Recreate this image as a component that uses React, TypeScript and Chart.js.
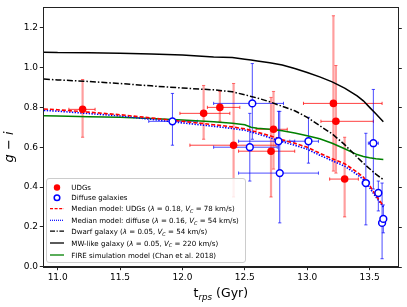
import React, { useEffect, useRef } from 'react';
import { Chart, registerables } from 'chart.js';
Chart.register(...registerables);

const FONT = '"DejaVu Sans", sans-serif';

// ---------- data ----------
const xTicks = [11.0, 11.5, 12.0, 12.5, 13.0, 13.5];
const yTicks = [0.0, 0.2, 0.4, 0.6, 0.8, 1.0, 1.2];

const curveX = [10.89, 11.0, 11.25, 11.5, 11.75, 12.0, 12.25, 12.4, 12.5, 12.55, 12.6, 12.7, 12.8, 12.9, 13.0, 13.1, 13.2, 13.3, 13.4, 13.45, 13.5, 13.55, 13.61];
const mwY = [1.077, 1.075, 1.074, 1.072, 1.068, 1.063, 1.053, 1.05, 1.042, 1.038, 1.033, 1.024, 1.013, 0.995, 0.975, 0.953, 0.928, 0.897, 0.858, 0.833, 0.8, 0.768, 0.728];
const dwarfY = [0.942, 0.938, 0.93, 0.92, 0.908, 0.897, 0.888, 0.878, 0.863, 0.855, 0.847, 0.828, 0.805, 0.783, 0.75, 0.708, 0.667, 0.613, 0.55, 0.52, 0.492, 0.465, 0.437];
const medUdgY = [0.792, 0.788, 0.776, 0.763, 0.747, 0.73, 0.713, 0.702, 0.692, 0.684, 0.675, 0.658, 0.637, 0.62, 0.6, 0.57, 0.542, 0.517, 0.475, 0.45, 0.408, 0.358, 0.305];
const medDifY = [0.785, 0.781, 0.769, 0.757, 0.74, 0.722, 0.705, 0.694, 0.685, 0.676, 0.668, 0.648, 0.627, 0.61, 0.59, 0.56, 0.532, 0.505, 0.463, 0.438, 0.397, 0.35, 0.3];
const fireY = [0.758, 0.757, 0.753, 0.75, 0.744, 0.737, 0.728, 0.72, 0.713, 0.7, 0.695, 0.69, 0.683, 0.671, 0.658, 0.642, 0.62, 0.592, 0.563, 0.553, 0.547, 0.542, 0.538];

const udgX = [11.2, 12.17, 12.3, 12.41, 12.73, 12.71, 13.21, 13.23, 13.3];
const udgY = [0.79, 0.77, 0.8, 0.61, 0.69, 0.58, 0.82, 0.73, 0.44];
const udgYLo = [0.65, 0.64, 0.73, 0.35, 0.49, 0.35, 0.48, 0.47, 0.25];
const udgYHi = [0.94, 0.91, 0.88, 0.92, 0.88, 0.85, 1.26, 1.01, 0.65];
const udgXLo = [11.09, 11.98, 12.2, 12.06, 12.59, 12.45, 12.97, 13.11, 13.18];
const udgXHi = [11.3, 12.38, 12.46, 12.75, 12.84, 12.9, 13.6, 13.53, 13.41];

const difX = [11.92, 12.56, 12.54, 12.77, 12.78, 13.01, 13.47, 13.53, 13.57, 13.6, 13.61];
const difY = [0.73, 0.82, 0.6, 0.63, 0.47, 0.63, 0.42, 0.62, 0.37, 0.22, 0.24];
const difYLo = [0.61, 0.64, 0.43, 0.48, 0.22, 0.52, 0.21, 0.39, 0.28, 0.04, 0.17];
const difYHi = [0.87, 1.02, 0.77, 0.78, 0.78, 0.75, 0.67, 0.89, 0.43, 0.42, 0.31];
const difXLo = [11.73, 12.25, 12.25, 12.45, 12.45, 12.86, 13.44, 13.49, 13.55, 13.59, 13.6];
const difXHi = [12.12, 12.81, 12.76, 12.9, 13.09, 13.09, 13.5, 13.57, 13.59, 13.61, 13.62];

const labels = [
  'UDGs',
  'Diffuse galaxies',
  'Median model: UDGs (λ = 0.18, V_C = 78 km/s)',
  'Median model: diffuse (λ = 0.16, V_C = 54 km/s)',
  'Dwarf galaxy (λ = 0.05, V_C = 54 km/s)',
  'MW-like galaxy (λ = 0.05, V_C = 220 km/s)',
  'FIRE simulation model (Chan et al. 2018)',
];

const pts = (xs: number[], ys: number[]) => xs.map((x, i) => ({ x, y: ys[i] }));

type Seg = { t: string; it?: boolean; sub?: boolean };
function parseLabel(label: string): Seg[] {
  const segs: Seg[] = [];
  let buf = '';
  const flush = () => { if (buf) segs.push({ t: buf }); buf = ''; };
  for (let i = 0; i < label.length; i++) {
    const c = label[i];
    if (c === 'λ') { flush(); segs.push({ t: 'λ', it: true }); }
    else if (c === 'V' && label[i + 1] === '_') {
      flush();
      segs.push({ t: 'V', it: true });
      segs.push({ t: label[i + 2], it: true, sub: true });
      i += 2;
    } else buf += c;
  }
  flush();
  return segs;
}
function segFont(s: Seg, size: number) {
  return `${s.it ? 'italic ' : ''}${s.sub ? size * 0.7 : size}px ${FONT}`;
}
function segsWidth(ctx: CanvasRenderingContext2D, segs: Seg[], size: number) {
  let w = 0;
  for (const s of segs) { ctx.font = segFont(s, size); w += ctx.measureText(s.t).width; }
  return w;
}
function drawSegs(ctx: CanvasRenderingContext2D, segs: Seg[], x: number, y: number, size: number) {
  for (const s of segs) {
    ctx.font = segFont(s, size);
    ctx.fillText(s.t, x, y + (s.sub ? size * 0.25 : 0));
    x += ctx.measureText(s.t).width;
  }
}

const errorBars = {
  id: 'errorBars',
  beforeDatasetsDraw(chart: any) {
    const { ctx, scales: { x, y }, chartArea } = chart;
    ctx.save();
    ctx.beginPath();
    ctx.rect(chartArea.left, chartArea.top, chartArea.right - chartArea.left, chartArea.bottom - chartArea.top);
    ctx.clip();
    const cap = 1.6;
    const line = (x1: number, y1: number, x2: number, y2: number) => {
      ctx.beginPath(); ctx.moveTo(x1, y1); ctx.lineTo(x2, y2); ctx.stroke();
    };
    udgX.forEach((xv, i) => {
      const px = x.getPixelForValue(xv), py = y.getPixelForValue(udgY[i]);
      const yl = y.getPixelForValue(udgYLo[i]), yh = y.getPixelForValue(udgYHi[i]);
      const xl = x.getPixelForValue(udgXLo[i]), xh = x.getPixelForValue(udgXHi[i]);
      ctx.strokeStyle = 'rgba(255,0,0,0.38)'; ctx.lineWidth = 2.2;
      line(px, yl, px, yh);
      ctx.strokeStyle = 'rgba(255,0,0,0.55)'; ctx.lineWidth = 1;
      line(px - cap, yl, px + cap, yl); line(px - cap, yh, px + cap, yh);
      ctx.strokeStyle = 'rgba(255,0,0,0.75)'; ctx.lineWidth = 1;
      line(xl, py, xh, py);
      line(xl, py - cap, xl, py + cap); line(xh, py - cap, xh, py + cap);
    });
    difX.forEach((xv, i) => {
      const px = x.getPixelForValue(xv), py = y.getPixelForValue(difY[i]);
      const yl = y.getPixelForValue(difYLo[i]), yh = y.getPixelForValue(difYHi[i]);
      const xl = x.getPixelForValue(difXLo[i]), xh = x.getPixelForValue(difXHi[i]);
      ctx.strokeStyle = 'rgba(0,0,255,0.7)'; ctx.lineWidth = 1;
      line(px, yl, px, yh);
      line(px - cap, yl, px + cap, yl); line(px - cap, yh, px + cap, yh);
      line(xl, py, xh, py);
      line(xl, py - cap, xl, py + cap); line(xh, py - cap, xh, py + cap);
    });
    ctx.restore();
  },
};

const decor = {
  id: 'decor',
  afterDraw(chart: any) {
    const { ctx, chartArea: a, scales: { y } } = chart;
    ctx.save();
    ctx.strokeStyle = '#222';
    ctx.lineWidth = 1;
    ctx.strokeRect(Math.round(a.left) + 0.5, Math.round(a.top) + 0.5, Math.round(a.right - a.left), Math.round(a.bottom - a.top));
    yTicks.forEach((v) => {
      const py = Math.round(y.getPixelForValue(v)) + 0.5;
      ctx.beginPath(); ctx.moveTo(a.right, py); ctx.lineTo(a.right + 3.5, py); ctx.stroke();
    });

    ctx.fillStyle = '#000';
    ctx.textBaseline = 'alphabetic';
    const ts = 12.5;
    const xt: Seg[] = [{ t: 't' }, { t: 'rps', it: true, sub: true }, { t: ' (Gyr)' }];
    const xw = segsWidth(ctx, xt, ts);
    drawSegs(ctx, xt, (a.left + a.right) / 2 - xw / 2, 297, ts);
    const yt: Seg[] = [{ t: 'g', it: true }, { t: ' − ' }, { t: 'i', it: true }];
    const ysz = 13;
    const yw = segsWidth(ctx, yt, ysz);
    ctx.save();
    ctx.translate(13, (a.top + a.bottom) / 2 + 10);
    ctx.rotate(-Math.PI / 2);
    drawSegs(ctx, yt, -yw / 2, 0, ysz);
    ctx.restore();

    const bx = 46.5, by = 178.5, bw = 199, bh = 84;
    ctx.beginPath();
    (ctx as any).roundRect(bx, by, bw, bh, 2.5);
    ctx.fillStyle = 'rgba(255,255,255,0.85)';
    ctx.fill();
    ctx.strokeStyle = '#cccccc';
    ctx.lineWidth = 1;
    ctx.stroke();

    const segsAll = labels.map(parseLabel);
    const w10 = segsWidth(ctx, segsAll[3], 10);
    const fs = (10 * 168) / w10;
    const rows = [187.5, 197.8, 208.7, 220.3, 231.2, 243, 255];
    const tx = 71.3, hx1 = 50, hx2 = 64;
    segsAll.forEach((segs, i) => {
      ctx.fillStyle = '#000';
      drawSegs(ctx, segs, tx, rows[i] + fs * 0.36, fs);
    });
    const hline = (ry: number, color: string, dash: number[], lw: number) => {
      ctx.save();
      ctx.strokeStyle = color; ctx.lineWidth = lw; ctx.setLineDash(dash);
      ctx.beginPath(); ctx.moveTo(hx1, ry); ctx.lineTo(hx2, ry); ctx.stroke();
      ctx.restore();
    };
    ctx.fillStyle = '#ff0000';
    ctx.beginPath(); ctx.arc(57, rows[0], 3.2, 0, Math.PI * 2); ctx.fill();
    ctx.strokeStyle = '#0000ff'; ctx.lineWidth = 1.5; ctx.fillStyle = '#fff';
    ctx.beginPath(); ctx.arc(57, rows[1], 2.8, 0, Math.PI * 2); ctx.fill(); ctx.stroke();
    hline(rows[2], '#ff0000', [3, 1.6], 1.2);
    hline(rows[3], '#0000ff', [1, 1], 1.2);
    hline(rows[4], '#000000', [5, 1.6, 1.2, 1.6], 1.2);
    hline(rows[5], '#000000', [], 1.3);
    hline(rows[6], '#008000', [], 1.3);
    ctx.restore();
  },
};

export default function App() {
  const ref = useRef<HTMLCanvasElement>(null);
  useEffect(() => {
    document.body.style.margin = '0';
    const chart = new Chart(ref.current!, {
      type: 'scatter',
      data: {
        datasets: [
          {
            label: labels[0], data: pts(udgX, udgY),
            pointRadius: 3.8, pointBackgroundColor: '#ff0000', pointBorderColor: '#ff0000', pointBorderWidth: 0,
          },
          {
            label: labels[1], data: pts(difX, difY),
            pointRadius: 3.4, pointBackgroundColor: '#ffffff', pointBorderColor: '#0000ff', pointBorderWidth: 1.5,
          },
          {
            label: labels[2], data: pts(curveX, medUdgY), showLine: true, pointRadius: 0,
            borderColor: '#ff0000', borderWidth: 1.6, borderDash: [4, 2],
          },
          {
            label: labels[3], data: pts(curveX, medDifY), showLine: true, pointRadius: 0,
            borderColor: '#0000ff', borderWidth: 1.6, borderDash: [1.4, 1.4],
          },
          {
            label: labels[4], data: pts(curveX, dwarfY), showLine: true, pointRadius: 0,
            borderColor: '#000000', borderWidth: 1.5, borderDash: [6, 2, 1.5, 2],
          },
          {
            label: labels[5], data: pts(curveX, mwY), showLine: true, pointRadius: 0,
            borderColor: '#000000', borderWidth: 1.5,
          },
          {
            label: labels[6], data: pts(curveX, fireY), showLine: true, pointRadius: 0,
            borderColor: '#008000', borderWidth: 1.5,
          },
        ] as any,
      },
      options: {
        animation: false,
        responsive: false,
        layout: { padding: { top: 6, right: 8.7, left: 0, bottom: 0 } },
        plugins: { legend: { display: false }, tooltip: { enabled: false } },
        scales: {
          x: {
            type: 'linear', min: 10.885, max: 13.73,
            afterBuildTicks: (s: any) => { s.ticks = xTicks.map((v) => ({ value: v })); },
            afterFit: (s: any) => { s.height = 40.3; },
            grid: { drawOnChartArea: false, drawTicks: true, tickLength: 3.5, color: '#222', lineWidth: 1 },
            border: { display: true, color: '#222', width: 1 },
            ticks: {
              color: '#000', padding: 2, maxRotation: 0, autoSkip: false,
              font: { family: FONT, size: 9 },
              callback: (v: any) => Number(v).toFixed(1),
            },
          },
          y: {
            type: 'linear', min: 0, max: 1.303,
            afterBuildTicks: (s: any) => { s.ticks = yTicks.map((v) => ({ value: v })); },
            afterFit: (s: any) => { s.width = 43.3; },
            grid: { drawOnChartArea: false, drawTicks: true, tickLength: 3.5, color: '#222', lineWidth: 1 },
            border: { display: true, color: '#222', width: 1 },
            ticks: {
              color: '#000', padding: 1.8, autoSkip: false,
              font: { family: FONT, size: 9 },
              callback: (v: any) => Number(v).toFixed(1),
            },
          },
        },
      } as any,
      plugins: [errorBars, decor],
    });
    return () => chart.destroy();
  }, []);
  return <canvas ref={ref} width={407} height={307} style={{ display: 'block' }} />;
}
